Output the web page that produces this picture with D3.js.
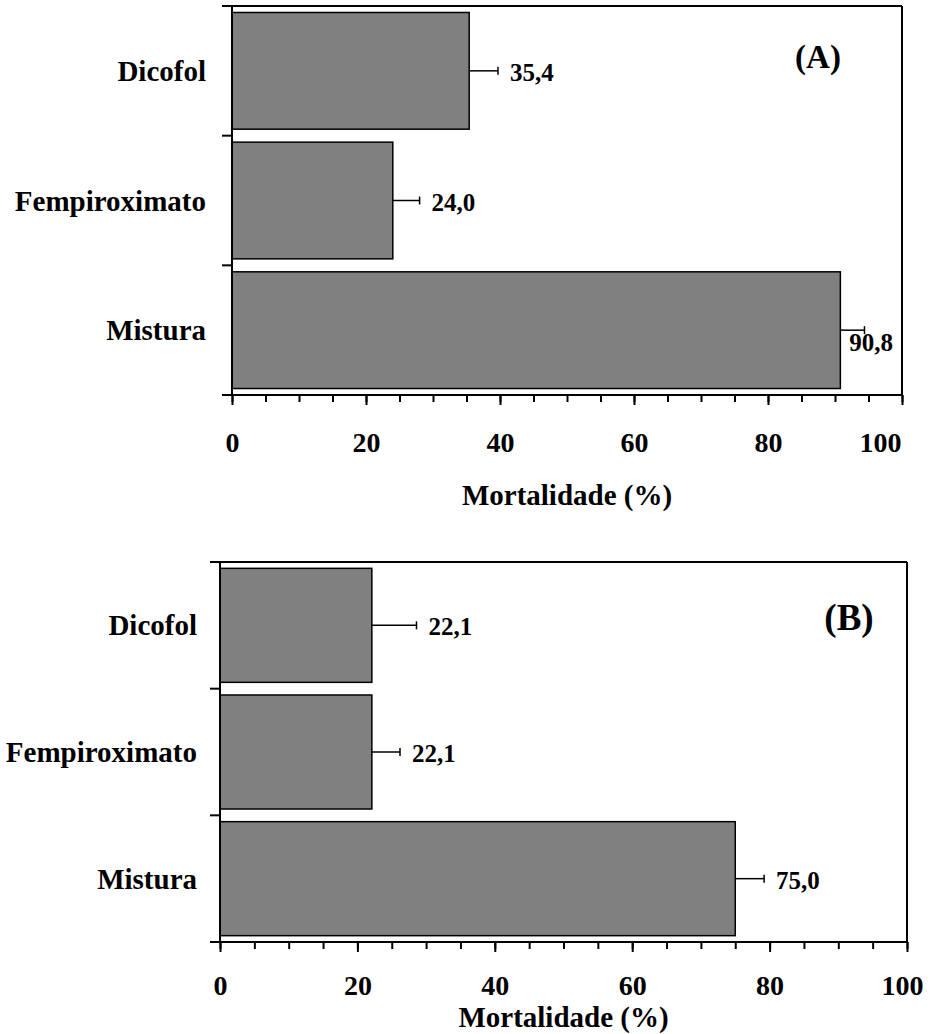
<!DOCTYPE html>
<html>
<head>
<meta charset="utf-8">
<script src="https://cdn.jsdelivr.net/npm/d3@7"></script>
<style>
  html, body { margin: 0; padding: 0; background: #fff; }
  svg { display: block; }
  text { font-family: "Liberation Serif", "Times New Roman", serif; font-weight: bold; fill: #000; }
</style>
</head>
<body>
<svg id="chart" width="933" height="1034"></svg>
<script>
// ---- data ----
const categories = ["Dicofol", "Fempiroximato", "Mistura"];
const valuesA = [35.4, 24.0, 90.8];
const errorsA = [4.3, 4.0, 3.6];
const valuesB = [22.1, 22.1, 75.0];
const errorsB = [6.5, 4.1, 4.2];
const labelsA = ["35,4", "24,0", "90,8"];
const labelsB = ["22,1", "22,1", "75,0"];
const majorTicks = [0, 20, 40, 60, 80, 100];
const minorTicks = d3.range(0, 101, 5);
const axisTitle = "Mortalidade (%)";
const panelTags = ["(A)", "(B)"];

const svg = d3.select("#chart");

function drawPanel(cfg) {
  const { left, right, top, bottom, values, errors, labels, tag, tagX, tagY, tagSize,
          catOffset, tickPad, titleY, lastShift } = cfg;
  const g = svg.append("g");
  const x = d3.scaleLinear().domain([0, 100]).range([left, right]);
  const y = d3.scaleBand().domain(categories).range([top, bottom])
    .paddingInner(0.1).paddingOuter(0.05);
  const step = y.step();

  // bars
  g.selectAll("rect.bar").data(categories).join("rect")
    .attr("x", x(0))
    .attr("y", d => y(d))
    .attr("width", (d, i) => x(values[i]) - x(0))
    .attr("height", y.bandwidth())
    .attr("fill", "#808080")
    .attr("stroke", "#000")
    .attr("stroke-width", 1.5);

  // error bars
  categories.forEach((c, i) => {
    const cy = y(c) + y.bandwidth() / 2;
    const x1 = x(values[i]), x2 = x(values[i] + errors[i]);
    g.append("line").attr("x1", x1).attr("x2", x2).attr("y1", cy).attr("y2", cy)
      .attr("stroke", "#000").attr("stroke-width", 1.5);
    g.append("line").attr("x1", x2).attr("x2", x2).attr("y1", cy - 4).attr("y2", cy + 4)
      .attr("stroke", "#000").attr("stroke-width", 1.5);
    // value label
    const t = g.append("text").attr("font-size", 25).text(labels[i]);
    const w = t.node().getComputedTextLength();
    if (x2 + 12 + w > right - 4) {
      t.attr("x", x1 + 9).attr("y", cy + 21);
    } else {
      t.attr("x", x2 + 12).attr("y", cy + 10);
    }
  });

  // frame: top and right
  g.append("line").attr("x1", left - 10).attr("x2", right).attr("y1", top).attr("y2", top)
    .attr("stroke", "#000").attr("stroke-width", 2);
  g.append("line").attr("x1", right).attr("x2", right).attr("y1", top).attr("y2", bottom)
    .attr("stroke", "#000").attr("stroke-width", 2);
  // left axis
  g.append("line").attr("x1", left).attr("x2", left).attr("y1", top).attr("y2", bottom)
    .attr("stroke", "#000").attr("stroke-width", 2);
  // y ticks at band boundaries
  d3.range(0, categories.length + 1).forEach(k => {
    const yy = top + k * step;
    g.append("line").attr("x1", left - 10).attr("x2", left).attr("y1", yy).attr("y2", yy)
      .attr("stroke", "#000").attr("stroke-width", 2);
  });
  // category labels
  categories.forEach(c => {
    g.append("text").attr("x", left - catOffset).attr("y", y(c) + y.bandwidth() / 2 + 10)
      .attr("text-anchor", "end").attr("font-size", 29).text(c);
  });

  // x axis: minor ticks
  const minorAxis = d3.axisBottom(x).tickValues(minorTicks).tickSize(7).tickFormat("");
  const gm = g.append("g").attr("transform", `translate(0,${bottom})`).call(minorAxis);
  gm.select(".domain").remove();
  gm.selectAll("line").attr("stroke-width", 2);
  // major ticks with labels
  const majorAxis = d3.axisBottom(x).tickValues(majorTicks).tickSize(10).tickPadding(tickPad)
    .tickFormat(d3.format("d"));
  const ga = g.append("g").attr("transform", `translate(0,${bottom})`).call(majorAxis);
  ga.select(".domain").remove();
  ga.selectAll("line").attr("stroke-width", 2);
  ga.selectAll("text").attr("font-size", 28)
    .attr("font-family", '"Liberation Serif", "Times New Roman", serif').attr("font-weight", "bold")
    .attr("dx", d => d === 100 ? lastShift : 0);
  // axis baseline
  g.append("line").attr("x1", left - 10).attr("x2", right).attr("y1", bottom).attr("y2", bottom)
    .attr("stroke", "#000").attr("stroke-width", 2);

  // axis title
  g.append("text").attr("x", (left + right) / 2).attr("y", titleY)
    .attr("text-anchor", "middle").attr("font-size", 29).text(axisTitle);

  // panel tag
  g.append("text").attr("x", tagX).attr("y", tagY).attr("text-anchor", "middle")
    .attr("font-size", tagSize).text(tag);
}

drawPanel({ left: 232, right: 902, top: 6, bottom: 395,
  values: valuesA, errors: errorsA, labels: labelsA, tag: panelTags[0],
  tagX: 818, tagY: 68, tagSize: 33, catOffset: 26, tickPad: 27, titleY: 505, lastShift: -22 });

drawPanel({ left: 220, right: 907, top: 562, bottom: 942,
  values: valuesB, errors: errorsB, labels: labelsB, tag: panelTags[1],
  tagX: 849, tagY: 630, tagSize: 37, catOffset: 23, tickPad: 23, titleY: 1027, lastShift: -5 });
</script>
</body>
</html>
